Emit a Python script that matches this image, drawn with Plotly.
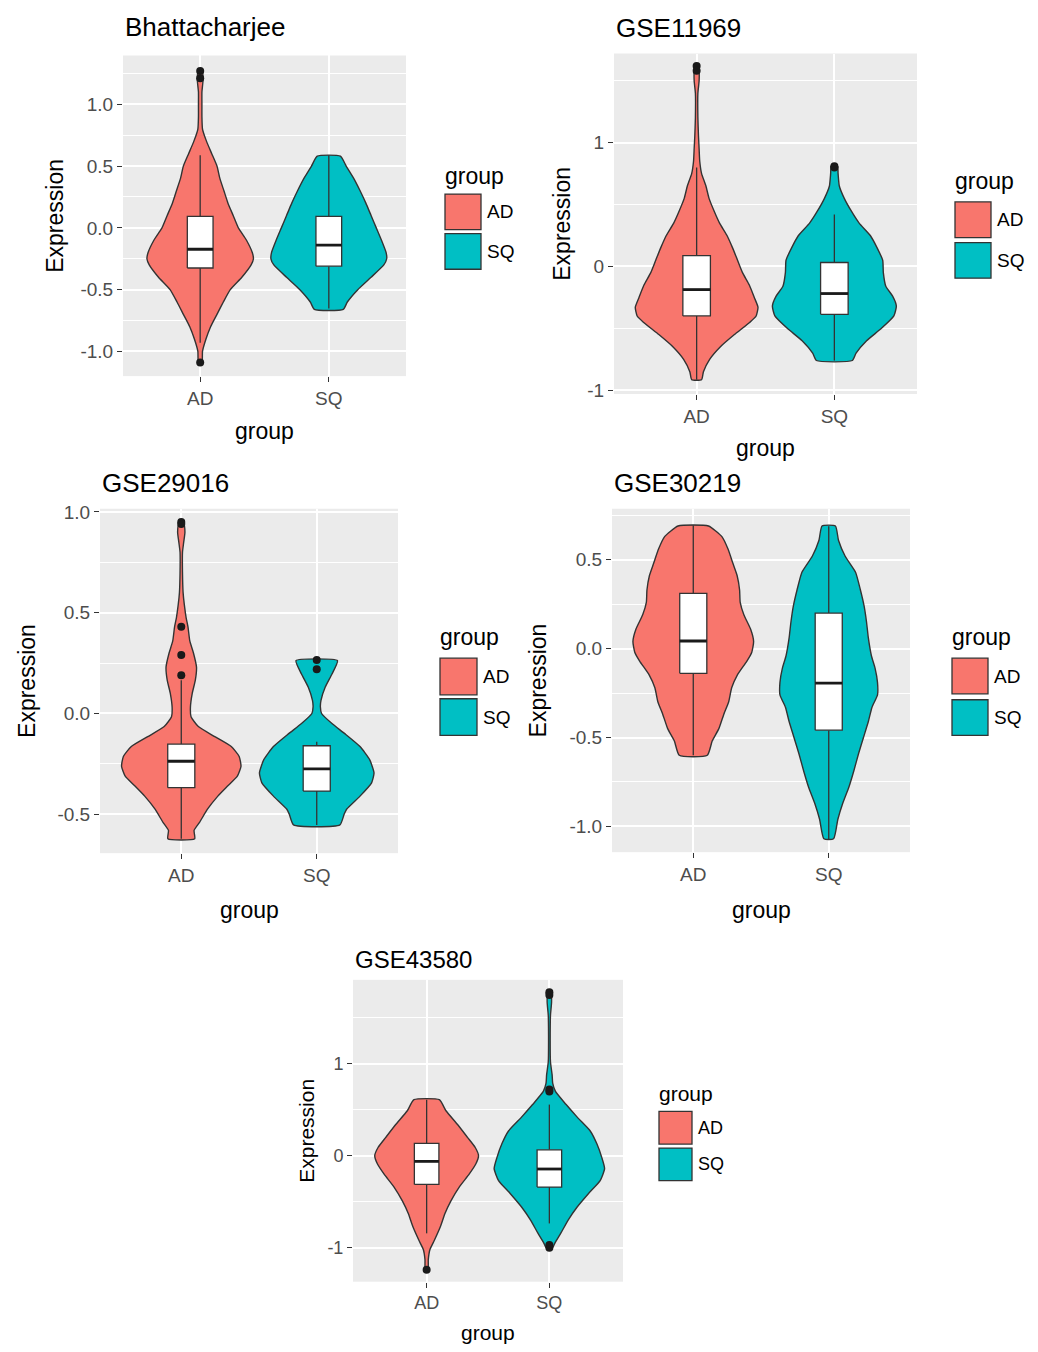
import numpy as np
import plotly.graph_objects as go

W, H = 1038, 1352
FONT = "Liberation Sans, Arial, sans-serif"
AD_COLOR = "#F8766D"
SQ_COLOR = "#00BFC4"
PANEL_BG = "#EBEBEB"
INK = "#333333"

groups = ["AD", "SQ"]

# ---------------- Bhattacharjee ----------------
bh_ad_y = [-1.10, -1.00, -0.90, -0.80, -0.70, -0.60, -0.50, -0.40, -0.30, -0.25, -0.20, -0.10,
           0.00, 0.10, 0.20, 0.30, 0.40, 0.50, 0.60, 0.70, 0.80, 0.90, 1.00, 1.10, 1.20, 1.28]
bh_ad_dens = [0.03, 0.04, 0.10, 0.18, 0.29, 0.40, 0.52, 0.72, 0.88, 0.92, 0.90, 0.80,
              0.66, 0.57, 0.48, 0.41, 0.34, 0.29, 0.20, 0.11, 0.04, 0.03, 0.03, 0.03, 0.05, 0.03]
bh_sq_y = [-0.66, -0.60, -0.50, -0.40, -0.30, -0.25, -0.20, -0.10, 0.00, 0.10, 0.20, 0.30, 0.40, 0.50, 0.58]
bh_sq_dens = [0.25, 0.32, 0.50, 0.73, 0.95, 1.00, 0.99, 0.91, 0.82, 0.73, 0.64, 0.54, 0.43, 0.30, 0.20]
# box stats: lower whisker, q1, median, q3, upper whisker
bh_ad_box = [-0.93, -0.325, -0.173, 0.093, 0.587]
bh_sq_box = [-0.653, -0.31, -0.14, 0.093, 0.587]
bh_ad_out = [1.27, 1.21, -1.09]
bh_sq_out = []
bh_yrange = [-1.20, 1.395]
bh_ticks = [-1.0, -0.5, 0.0, 0.5, 1.0]
bh_ticktext = ["-1.0", "-0.5", "0.0", "0.5", "1.0"]
bh_minor = [-0.75, -0.25, 0.25, 0.75, 1.25]

# ---------------- GSE11969 ----------------
g11_ad_y = [-0.915, -0.85, -0.75, -0.65, -0.55, -0.45, -0.40, -0.33, -0.25, -0.15, -0.05, 0.05, 0.15,
            0.25, 0.35, 0.45, 0.55, 0.65, 0.75, 0.85, 0.95, 1.05, 1.20, 1.40, 1.50, 1.58, 1.62]
g11_ad_dens = [0.08, 0.11, 0.21, 0.38, 0.61, 0.86, 0.96, 0.99, 0.93, 0.85, 0.74, 0.66, 0.58,
               0.49, 0.37, 0.28, 0.20, 0.15, 0.08, 0.05, 0.04, 0.03, 0.02, 0.02, 0.04, 0.04, 0.03]
g11_sq_y = [-0.76, -0.70, -0.60, -0.50, -0.40, -0.32, -0.24, -0.16, -0.05, 0.05, 0.15, 0.25,
            0.35, 0.45, 0.55, 0.65, 0.75, 0.81]
g11_sq_dens = [0.29, 0.35, 0.52, 0.76, 0.96, 1.00, 0.94, 0.83, 0.79, 0.78, 0.69, 0.58,
               0.40, 0.27, 0.16, 0.08, 0.06, 0.05]
g11_ad_box = [-0.915, -0.40, -0.187, 0.088, 0.80]
g11_sq_box = [-0.76, -0.387, -0.219, 0.032, 0.42]
g11_ad_out = [1.62, 1.58]
g11_sq_out = [0.81, 0.80]
g11_yrange = [-1.03, 1.72]
g11_ticks = [-1, 0, 1]
g11_ticktext = ["-1", "0", "1"]
g11_minor = [-0.5, 0.5, 1.5]

# ---------------- GSE29016 ----------------
g29_ad_y = [-0.622, -0.58, -0.54, -0.475, -0.41, -0.36, -0.311, -0.262, -0.213, -0.164, -0.115, -0.065,
            -0.016, 0.03, 0.10, 0.164, 0.23, 0.30, 0.36, 0.43, 0.475, 0.54, 0.60, 0.70, 0.80, 0.85, 0.90, 0.94]
g29_ad_dens = [0.22, 0.21, 0.30, 0.43, 0.60, 0.76, 0.92, 0.98, 0.95, 0.82, 0.55, 0.28,
               0.16, 0.15, 0.18, 0.23, 0.25, 0.20, 0.14, 0.11, 0.08, 0.05, 0.03, 0.02, 0.02, 0.04, 0.06, 0.04]
g29_sq_y = [-0.553, -0.50, -0.475, -0.41, -0.344, -0.295, -0.23, -0.164, -0.10, -0.05, 0.0,
            0.033, 0.065, 0.131, 0.196, 0.262]
g29_sq_dens = [0.38, 0.45, 0.49, 0.71, 0.90, 0.94, 0.87, 0.71, 0.46, 0.25, 0.08,
               0.06, 0.07, 0.14, 0.25, 0.34]
g29_ad_box = [-0.622, -0.368, -0.237, -0.152, 0.165]
g29_sq_box = [-0.553, -0.385, -0.275, -0.16, -0.14]
g29_ad_out = [0.95, 0.94, 0.43, 0.29, 0.19]
g29_sq_out = [0.265, 0.22]
g29_yrange = [-0.693, 1.016]
g29_ticks = [-0.5, 0.0, 0.5, 1.0]
g29_ticktext = ["-0.5", "0.0", "0.5", "1.0"]
g29_minor = [-0.25, 0.25, 0.75]

# ---------------- GSE30219 ----------------
g30_ad_y = [-0.60, -0.52, -0.45, -0.37, -0.30, -0.22, -0.15, -0.07, -0.02, 0.04, 0.11, 0.19,
            0.26, 0.33, 0.41, 0.48, 0.56, 0.63, 0.69]
g30_ad_dens = [0.23, 0.31, 0.42, 0.50, 0.58, 0.63, 0.72, 0.88, 0.96, 0.99, 0.94, 0.83,
               0.77, 0.76, 0.72, 0.65, 0.57, 0.47, 0.25]
g30_sq_y = [-1.07, -0.96, -0.87, -0.78, -0.69, -0.59, -0.50, -0.41, -0.33, -0.26, -0.19, -0.11,
            -0.04, 0.06, 0.15, 0.24, 0.33, 0.43, 0.52, 0.61, 0.69]
g30_sq_dens = [0.08, 0.15, 0.23, 0.33, 0.41, 0.49, 0.57, 0.65, 0.71, 0.80, 0.80, 0.76,
               0.70, 0.65, 0.62, 0.58, 0.52, 0.44, 0.27, 0.16, 0.11]
g30_ad_box = [-0.60, -0.139, 0.043, 0.311, 0.694]
g30_sq_box = [-1.074, -0.459, -0.194, 0.20, 0.689]
g30_ad_out = []
g30_sq_out = []
g30_yrange = [-1.145, 0.787]
g30_ticks = [-1.0, -0.5, 0.0, 0.5]
g30_ticktext = ["-1.0", "-0.5", "0.0", "0.5"]
g30_minor = [-0.75, -0.25, 0.25, 0.75]

# ---------------- GSE43580 ----------------
g43_ad_y = [-1.24, -1.13, -1.02, -0.92, -0.77, -0.63, -0.49, -0.34, -0.20, -0.09, 0.00, 0.09,
            0.20, 0.34, 0.49, 0.61]
g43_ad_dens = [0.025, 0.03, 0.06, 0.14, 0.25, 0.33, 0.44, 0.59, 0.77, 0.89, 0.94, 0.88,
               0.74, 0.56, 0.35, 0.23]
g43_sq_y = [-1.00, -0.95, -0.84, -0.70, -0.56, -0.41, -0.27, -0.14, -0.02, 0.13, 0.27, 0.41,
            0.56, 0.70, 0.79, 0.88, 1.02, 1.31, 1.53, 1.67, 1.78]
g43_sq_dens = [0.06, 0.10, 0.21, 0.34, 0.50, 0.71, 0.92, 1.00, 0.95, 0.86, 0.74, 0.52,
               0.30, 0.11, 0.06, 0.05, 0.02, 0.015, 0.02, 0.04, 0.03]
g43_ad_box = [-0.844, -0.312, -0.061, 0.136, 0.61]
g43_sq_box = [-0.736, -0.341, -0.144, 0.065, 0.557]
g43_ad_out = [-1.24]
g43_sq_out = [1.78, 1.75, 0.72, 0.70, -0.97, -1.0]
g43_yrange = [-1.37, 1.915]
g43_ticks = [-1, 0, 1]
g43_ticktext = ["-1", "0", "1"]
g43_minor = [-0.5, 0.5, 1.5]

titles = ["Bhattacharjee", "GSE11969", "GSE29016", "GSE30219", "GSE43580"]

# Figure geometry (pixels): plot box, title/axis-title offsets, legend placement, font scale
geometry = [
    dict(l=123, r=406, t=49, b=373, title_y=20, xt_y=428, yt_x=55,
         leg_x=443, leg_title_y=171, key=36, key_tops=(189, 229), fs=1.0),
    dict(l=614, r=917, t=47, b=391, title_y=21, xt_y=446, yt_x=562,
         leg_x=953, leg_title_y=176, key=36, key_tops=(197, 238), fs=1.0),
    dict(l=100, r=398, t=507, b=855, title_y=481, xt_y=912, yt_x=27,
         leg_x=438, leg_title_y=637, key=37, key_tops=(658, 699), fs=1.0),
    dict(l=612, r=910, t=507, b=854, title_y=481, xt_y=912, yt_x=538,
         leg_x=950, leg_title_y=637, key=36, key_tops=(658, 700), fs=1.0),
    dict(l=353, r=623, t=983, b=1288, title_y=962, xt_y=1339, yt_x=307,
         leg_x=657, leg_title_y=1098, key=33, key_tops=(1116, 1153), fs=0.93),
]

panels = [
    dict(ad=(bh_ad_y, bh_ad_dens, bh_ad_box, bh_ad_out), sq=(bh_sq_y, bh_sq_dens, bh_sq_box, bh_sq_out),
         yrange=bh_yrange, ticks=bh_ticks, ticktext=bh_ticktext, minor=bh_minor),
    dict(ad=(g11_ad_y, g11_ad_dens, g11_ad_box, g11_ad_out), sq=(g11_sq_y, g11_sq_dens, g11_sq_box, g11_sq_out),
         yrange=g11_yrange, ticks=g11_ticks, ticktext=g11_ticktext, minor=g11_minor),
    dict(ad=(g29_ad_y, g29_ad_dens, g29_ad_box, g29_ad_out), sq=(g29_sq_y, g29_sq_dens, g29_sq_box, g29_sq_out),
         yrange=g29_yrange, ticks=g29_ticks, ticktext=g29_ticktext, minor=g29_minor),
    dict(ad=(g30_ad_y, g30_ad_dens, g30_ad_box, g30_ad_out), sq=(g30_sq_y, g30_sq_dens, g30_sq_box, g30_sq_out),
         yrange=g30_yrange, ticks=g30_ticks, ticktext=g30_ticktext, minor=g30_minor),
    dict(ad=(g43_ad_y, g43_ad_dens, g43_ad_box, g43_ad_out), sq=(g43_sq_y, g43_sq_dens, g43_sq_box, g43_sq_out),
         yrange=g43_yrange, ticks=g43_ticks, ticktext=g43_ticktext, minor=g43_minor),
]

VIOLIN_HALF = 0.45   # half of geom_violin's default width
BOX_HALF = 0.10      # half of the boxplot width (0.2)


def violin_outline(center, ys, dens):
    ys = np.asarray(ys, dtype=float)
    d = np.asarray(dens, dtype=float) * VIOLIN_HALF
    x = np.concatenate([center + d, (center - d)[::-1], [center + d[0]]])
    y = np.concatenate([ys, ys[::-1], [ys[0]]])
    return x, y


fig = go.Figure()
annotations = []
shapes = []

for i, (p, g) in enumerate(zip(panels, geometry), start=1):
    xref = "x" if i == 1 else f"x{i}"
    yref = "y" if i == 1 else f"y{i}"
    fs = g["fs"]

    for k, (name, color) in enumerate(zip(groups, [AD_COLOR, SQ_COLOR])):
        center = k + 1
        ys, dens, box, out = p["ad"] if name == "AD" else p["sq"]
        lo, q1, med, q3, hi = box

        vx, vy = violin_outline(center, ys, dens)
        fig.add_trace(go.Scatter(x=vx, y=vy, mode="lines", fill="toself", fillcolor=color,
                                 line=dict(color=INK, width=1.4, shape="spline", smoothing=0.5),
                                 xaxis=xref, yaxis=yref, showlegend=False, hoverinfo="skip"))
        # whiskers
        fig.add_trace(go.Scatter(x=[center, center, None, center, center], y=[q3, hi, None, q1, lo],
                                 mode="lines", line=dict(color=INK, width=1.3),
                                 xaxis=xref, yaxis=yref, showlegend=False, hoverinfo="skip"))
        # box
        fig.add_trace(go.Scatter(x=[center - BOX_HALF, center + BOX_HALF, center + BOX_HALF,
                                    center - BOX_HALF, center - BOX_HALF],
                                 y=[q1, q1, q3, q3, q1], mode="lines", fill="toself", fillcolor="white",
                                 line=dict(color=INK, width=1.3),
                                 xaxis=xref, yaxis=yref, showlegend=False, hoverinfo="skip"))
        # median
        fig.add_trace(go.Scatter(x=[center - BOX_HALF, center + BOX_HALF], y=[med, med], mode="lines",
                                 line=dict(color="#1a1a1a", width=2.8),
                                 xaxis=xref, yaxis=yref, showlegend=False, hoverinfo="skip"))
        # outliers
        if out:
            fig.add_trace(go.Scatter(x=[center] * len(out), y=out, mode="markers",
                                     marker=dict(color="#1a1a1a", size=8),
                                     xaxis=xref, yaxis=yref, showlegend=False, hoverinfo="skip"))

    tickfont = dict(family=FONT, size=round(19 * fs), color="#4D4D4D")
    xa = dict(domain=[g["l"] / W, g["r"] / W], range=[0.4, 2.6], anchor=yref,
              tickmode="array", tickvals=[1, 2], ticktext=groups,
              showgrid=True, gridcolor="white", gridwidth=1.6, zeroline=False, showline=False,
              ticks="outside", ticklen=5, tickwidth=1.2, tickcolor=INK, tickfont=tickfont,
              fixedrange=True)
    ya = dict(domain=[1 - g["b"] / H, 1 - g["t"] / H], range=p["yrange"], anchor=xref,
              tickmode="array", tickvals=p["ticks"], ticktext=p["ticktext"],
              showgrid=True, gridcolor="white", gridwidth=1.6, zeroline=False, showline=False,
              ticks="outside", ticklen=5, tickwidth=1.2, tickcolor=INK, tickfont=tickfont,
              minor=dict(tickmode="array", tickvals=p["minor"], showgrid=True,
                         gridcolor="white", gridwidth=0.8, ticks=""),
              fixedrange=True)
    fig.update_layout({("xaxis" if i == 1 else f"xaxis{i}"): xa,
                       ("yaxis" if i == 1 else f"yaxis{i}"): ya})

    # panel title
    annotations.append(dict(text=titles[i - 1], x=g["l"] / W, y=1 - g["title_y"] / H,
                            xref="paper", yref="paper", xanchor="left", yanchor="middle",
                            showarrow=False, font=dict(family=FONT, size=round(26 * fs), color="black")))
    # axis titles
    annotations.append(dict(text="group", x=(g["l"] + g["r"]) / 2 / W, y=1 - g["xt_y"] / H,
                            xref="paper", yref="paper", xanchor="center", yanchor="middle",
                            showarrow=False, font=dict(family=FONT, size=round(23 * fs), color="black")))
    annotations.append(dict(text="Expression", x=g["yt_x"] / W, y=1 - (g["t"] + g["b"]) / 2 / H,
                            xref="paper", yref="paper", xanchor="center", yanchor="middle", textangle=-90,
                            showarrow=False, font=dict(family=FONT, size=round(23 * fs), color="black")))
    # legend
    annotations.append(dict(text="group", x=g["leg_x"] / W, y=1 - g["leg_title_y"] / H,
                            xref="paper", yref="paper", xanchor="left", yanchor="middle",
                            showarrow=False, font=dict(family=FONT, size=round(23 * fs), color="black")))
    kx0 = g["leg_x"] + 2
    for name, color, top in zip(groups, [AD_COLOR, SQ_COLOR], g["key_tops"]):
        shapes.append(dict(type="rect", xref="paper", yref="paper",
                           x0=kx0 / W, x1=(kx0 + g["key"]) / W,
                           y0=1 - (top + g["key"]) / H, y1=1 - top / H,
                           fillcolor=color, line=dict(color=INK, width=1.3)))
        annotations.append(dict(text=name, x=(kx0 + g["key"] + 4) / W, y=1 - (top + g["key"] / 2) / H,
                                xref="paper", yref="paper", xanchor="left", yanchor="middle",
                                showarrow=False, font=dict(family=FONT, size=round(19 * fs), color="black")))

fig.update_layout(width=W, height=H, margin=dict(l=0, r=0, t=0, b=0),
                  paper_bgcolor="white", plot_bgcolor=PANEL_BG, showlegend=False,
                  annotations=annotations, shapes=shapes, font=dict(family=FONT))

fig.write_html("out.html")
